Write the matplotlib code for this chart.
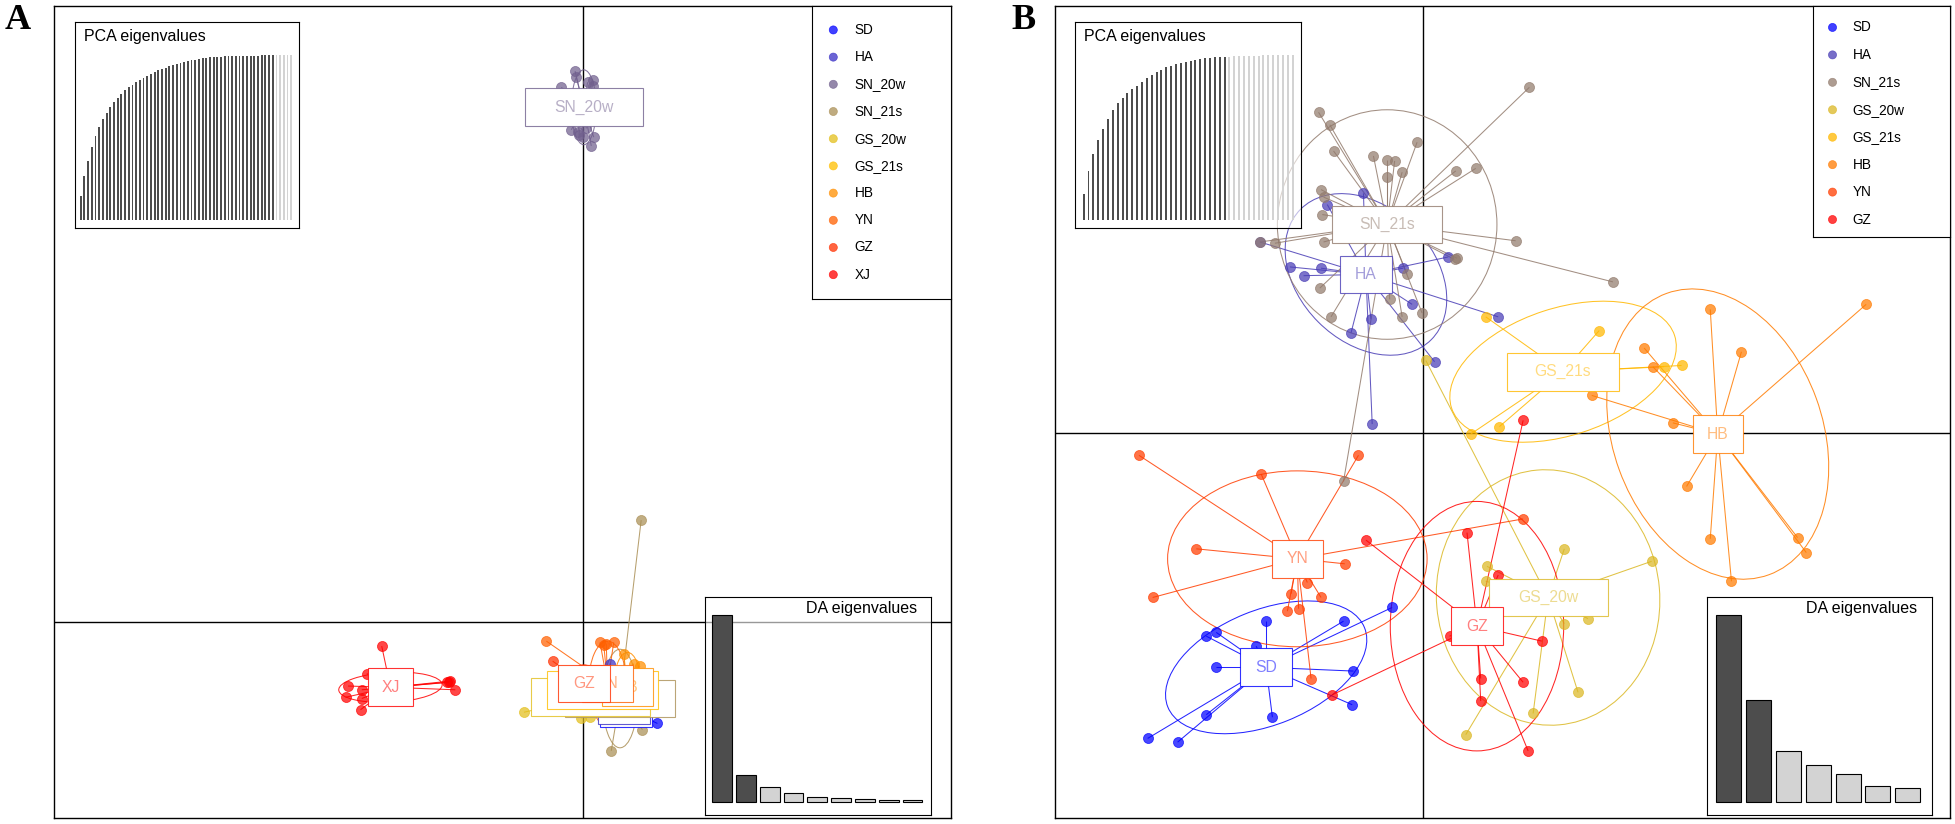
#!/usr/bin/env python
# DAPC scatter plots (panels A and B) with PCA / DA eigenvalue insets.
import matplotlib

matplotlib.use("Agg")
import matplotlib.pyplot as plt
from matplotlib.collections import LineCollection
from matplotlib.colors import to_rgba
from matplotlib.font_manager import FontProperties
from matplotlib.patches import Ellipse, Rectangle
from matplotlib.textpath import TextPath

plt.rcParams["font.family"] = ["Liberation Sans", "DejaVu Sans"]

# ----------------------------------------------------------------- panel A
A_GROUPS = ["SD", "HA", "SN_20w", "SN_21s", "GS_20w", "GS_21s", "HB", "YN", "GZ", "XJ"]
A_COLORS = ["#0000ff", "#3930c6", "#71608e", "#aa8f55", "#e3bf1c",
            "#ffbf00", "#ff8f00", "#ff6000", "#ff3000", "#ff0000"]
# group centroids (LD1, LD2)
A_CX = [3.5, 3.3, 0.1, 3.0, 0.6, 1.6, 3.6, 2.0, 0.1, -15.4]
A_CY = [-6.9, -6.6, 41.3, -6.1, -6.0, -5.4, -5.2, -4.9, -4.9, -5.2]
# inertia ellipses
A_ELL_W = [2.5, 2.5, 2.0, 2.8, 3.5, 3.2, 2.2, 3.0, 2.4, 8.3]
A_ELL_H = [2.0, 3.0, 6.0, 7.9, 3.0, 3.0, 5.6, 6.8, 3.0, 2.4]
A_ELL_ANG = [0, 0, 0, 0, 0, 0, 0, 0, 0, 3]

A_SD = [(6.0, -8.1), (4.3, -7.9), (2.8, -7.7), (3.6, -6.0), (4.5, -6.5)]
A_HA = [(2.2, -3.3), (3.8, -7.9), (3.0, -7.6), (4.2, -5.8)]
A_SN_20W = [(-0.6, 44.2), (-1.7, 42.9), (0.8, 43.5), (0.8, 43.0), (-0.5, 43.7),
            (0.4, 43.3), (-0.4, 39.3), (0.0, 38.9), (0.7, 38.2), (0.3, 39.6),
            (-0.3, 39.1), (-0.9, 39.5), (0.9, 38.9)]
A_SN_21S = [(4.7, 8.2), (4.8, -8.6), (2.3, -10.3), (3.0, -6.5), (2.0, -5.0), (4.0, -7.2)]
A_GS_20W = [(-4.7, -7.2), (-0.1, -7.7), (0.6, -7.6), (2.0, -5.5), (1.5, -6.5)]
A_GS_21S = [(0.0, -6.0), (3.0, -6.6), (1.0, -4.5), (2.5, -5.0)]
A_HB = [(3.3, -2.5), (4.1, -3.3), (4.6, -3.5), (3.0, -6.5), (4.0, -7.0)]
A_YN = [(-2.9, -1.5), (1.4, -1.6), (1.7, -1.8), (2.5, -1.6), (1.9, -1.7),
        (2.5, -6.0), (3.0, -5.0)]
A_GZ = [(-2.4, -3.1), (-1.0, -4.5), (1.0, -5.5), (2.0, -4.0), (0.5, -6.2)]
A_XJ = [(-16.1, -1.9), (-18.8, -5.1), (-19.0, -6.0), (-17.8, -7.0), (-17.7, -5.4),
        (-17.7, -6.1), (-17.3, -4.1), (-10.6, -4.7), (-10.7, -4.8), (-10.2, -5.4),
        (-10.9, -4.8)]
A_POINTS = [A_SD, A_HA, A_SN_20W, A_SN_21S, A_GS_20W, A_GS_21S, A_HB, A_YN, A_GZ, A_XJ]

A_PCA_EIG = [0.145, 0.27, 0.36, 0.44, 0.51, 0.565, 0.61, 0.65, 0.685, 0.715,
             0.74, 0.765, 0.785, 0.805, 0.82, 0.835, 0.85, 0.862, 0.874, 0.885,
             0.895, 0.905, 0.914, 0.922, 0.93, 0.937, 0.944, 0.95, 0.956, 0.961,
             0.966, 0.97, 0.974, 0.978, 0.981, 0.984, 0.986, 0.988, 0.989, 0.99,
             0.991, 0.992, 0.993, 0.993, 0.994, 0.994, 0.995, 0.995, 0.995, 0.996,
             0.996, 0.996, 0.996, 0.997, 0.998, 0.999, 1.0, 1.0]
A_PCA_KEPT = 53
A_DA_EIG = [150, 22, 12, 7, 4, 3, 2.5, 2, 1.5]
A_DA_KEPT = 2

# ----------------------------------------------------------------- panel B
B_GROUPS = ["SD", "HA", "SN_21s", "GS_20w", "GS_21s", "HB", "YN", "GZ"]
B_COLORS = ["#0000ff", "#493db6", "#927b6d", "#dbb824",
            "#ffb800", "#ff7b00", "#ff3d00", "#ff0000"]
B_CX = [-12.6, -4.6, -2.9, 10.0, 11.2, 23.6, -10.1, 4.3]
B_CY = [-18.8, 12.7, 16.7, -13.2, 4.9, -0.1, -10.1, -15.5]
B_ELL_W = [17.0, 14.8, 17.6, 20.5, 18.8, 24.0, 20.8, 20.0]
B_ELL_H = [9.2, 10.8, 18.4, 17.9, 10.2, 16.8, 14.1, 13.9]
B_ELL_ANG = [22, -45, 0, 95, 18, 110, 0, 90]

B_SD = [(-16.6, -16.0), (-17.4, -16.3), (-12.6, -15.1), (-13.4, -17.1), (-6.4, -15.1),
        (-2.5, -14.0), (-16.6, -18.8), (-5.6, -19.1), (-5.7, -21.8), (-12.1, -22.8),
        (-17.4, -22.6), (-22.1, -24.5), (-19.7, -24.8)]
B_HA = [(-4.8, 19.2), (-7.7, 18.3), (-10.7, 13.3), (-9.6, 12.6), (-8.2, 13.2),
        (-1.6, 13.2), (2.0, 14.1), (-0.9, 10.3), (6.0, 9.3), (-4.2, 9.1),
        (-5.8, 8.0), (-4.1, 0.7), (0.9, 5.7), (-13.1, 15.3)]
B_SN_21S = [(-8.4, 25.7), (-7.5, 24.7), (-7.2, 22.6), (-4.0, 22.2), (-2.9, 21.9),
            (-2.3, 21.8), (-1.7, 20.9), (-2.9, 20.5), (-0.5, 23.3), (2.6, 21.0),
            (4.2, 21.2), (-8.2, 19.5), (-8.0, 18.9), (-8.1, 17.5), (-8.0, 15.3),
            (-11.9, 15.2), (-13.1, 15.3), (-1.3, 12.7), (-2.7, 10.7), (-1.7, 9.3),
            (-0.1, 9.6), (-7.4, 9.3), (-8.3, 11.6), (2.5, 13.9), (2.7, 14.0),
            (7.4, 15.4), (15.2, 12.1), (8.5, 27.7), (-6.4, -3.9)]
B_GS_20W = [(0.2, 5.8), (11.3, -9.3), (5.1, -10.7), (5.0, -11.9), (11.3, -15.3),
            (13.2, -14.9), (12.4, -20.8), (8.8, -22.5), (3.4, -24.2), (18.3, -10.3)]
B_GS_21S = [(5.0, 9.3), (14.1, 8.2), (19.3, 5.3), (20.7, 5.4), (6.1, 0.5), (3.8, -0.1)]
B_HB = [(23.0, 9.9), (35.5, 10.3), (25.5, 6.5), (17.7, 6.8), (18.4, 5.3), (20.0, 0.8),
        (13.5, 3.0), (21.1, -4.3), (23.0, -8.5), (24.7, -11.9), (30.0, -8.4), (30.7, -9.6)]
B_YN = [(-22.8, -1.8), (-13.0, -3.3), (-5.2, -1.8), (-18.2, -9.3), (-6.3, -10.5),
        (-21.7, -13.2), (-9.3, -12.0), (-10.6, -12.9), (-8.2, -13.2), (-10.9, -14.3),
        (-10.0, -14.1), (-9.0, -19.7), (8.0, -6.9)]
B_GZ = [(8.0, 1.0), (3.5, -8.0), (6.0, -11.4), (9.5, -16.7), (4.6, -19.7), (4.6, -21.5),
        (8.0, -20.0), (8.4, -25.5), (2.1, -16.3), (-4.6, -8.6), (-7.3, -21.0)]
B_POINTS = [B_SD, B_HA, B_SN_21S, B_GS_20W, B_GS_21S, B_HB, B_YN, B_GZ]

B_PCA_EIG = [0.157, 0.296, 0.398, 0.483, 0.549, 0.614, 0.664, 0.706, 0.738, 0.769,
             0.791, 0.813, 0.835, 0.861, 0.875, 0.895, 0.909, 0.926, 0.934, 0.942,
             0.950, 0.956, 0.964, 0.970, 0.974, 0.978, 0.982, 0.984, 0.986, 0.988,
             0.989, 0.990, 0.991, 0.992, 0.993, 0.994, 0.995, 0.996, 0.997, 0.998,
             0.998, 0.999, 1.0, 1.0]
B_PCA_KEPT = 30
B_DA_EIG = [151, 82, 41, 30, 23, 13, 11]
B_DA_KEPT = 2

# ----------------------------------------------------------------- layout
# layout was measured on a 1568 x 660.6 copy of the figure; 10 of those px = 1 LD unit
REF_W, REF_H = 1568.0, 660.6
UNIT_PX = 10 * 1956 / REF_W
FS_LABEL = 11.3
FS_INSET = 11.5
FS_LEGEND = 9.8
DARK, LIGHT = "#4d4d4d", "#d3d3d3"


def ref_rect(x0, y0, x1, y1):
    return [x0 / REF_W, 1 - y1 / REF_H, (x1 - x0) / REF_W, (y1 - y0) / REF_H]


def text_width_px(text, size):
    prop = FontProperties(family="Liberation Sans", size=size)
    return TextPath((0, 0), text, prop=prop).get_extents().width * 100 / 72


def label_box(ax, x, y, text, color, z):
    w = (1.725 * text_width_px(text, FS_LABEL) + 16.4) / UNIT_PX
    h = 37.7 / UNIT_PX
    ax.add_patch(Rectangle((x - w / 2, y - h / 2), w, h, facecolor="white",
                           edgecolor=to_rgba(color, 0.8), linewidth=0.8, zorder=z))
    ax.text(x, y, text, color=to_rgba(color, 0.5), fontsize=FS_LABEL,
            ha="center", va="center", zorder=z + 0.005)


def draw_panel(fig, rect, origin, groups, colors, cx, cy, ell_w, ell_h, ell_ang, points):
    x0, y0, x1, y1 = rect
    ox, oy = origin
    ax = fig.add_axes(ref_rect(*rect))
    ax.set_xlim((x0 - ox) / 10, (x1 - ox) / 10)
    ax.set_ylim((oy - y1) / 10, (oy - y0) / 10)
    ax.set_xticks([])
    ax.set_yticks([])
    for spine in ax.spines.values():
        spine.set_linewidth(1.0)
    ax.axhline(0, color="black", linewidth=1.0, zorder=1)
    ax.axvline(0, color="black", linewidth=1.0, zorder=1)

    for i, col in enumerate(colors):
        pts = points[i]
        xs = [p[0] for p in pts]
        ys = [p[1] for p in pts]
        ax.add_patch(Ellipse((cx[i], cy[i]), ell_w[i], ell_h[i], angle=ell_ang[i],
                             fill=False, edgecolor=to_rgba(col, 0.85), linewidth=0.75, zorder=2))
        segs = [[(cx[i], cy[i]), p] for p in pts]
        ax.add_collection(LineCollection(segs, colors=[to_rgba(col, 0.85)],
                                         linewidths=0.75, zorder=2))
        ax.scatter(xs, ys, s=52, color=to_rgba(col, 0.72),
                   edgecolors=[to_rgba(col, 0.72)], linewidths=0.6, zorder=3)

    for i, name in enumerate(groups):
        label_box(ax, cx[i], cy[i], name, colors[i], 5 + 0.02 * i)
    return ax


def draw_pca_inset(fig, rect, eig, kept, bar_w, xlim):
    ax = fig.add_axes(ref_rect(*rect))
    ax.set_facecolor((1, 1, 1, 0.6))
    cols = [DARK if i < kept else LIGHT for i in range(len(eig))]
    ax.bar(range(len(eig)), eig, width=bar_w, color=cols, linewidth=0)
    top = max(eig)
    ax.set_xlim(*xlim)
    ax.set_ylim(-0.0447 * top, 1.196 * top)
    ax.set_xticks([])
    ax.set_yticks([])
    ax.text(0.04, 0.93, "PCA eigenvalues", transform=ax.transAxes,
            ha="left", va="center", fontsize=FS_INSET)


def draw_da_inset(fig, rect, eig, kept, xlim, title_x):
    ax = fig.add_axes(ref_rect(*rect))
    ax.set_facecolor((1, 1, 1, 0.6))
    pos = [1.2 * i for i in range(len(eig))]
    cols = [DARK if i < kept else LIGHT for i in range(len(eig))]
    ax.bar(pos, eig, width=1.0, color=cols, edgecolor="black", linewidth=0.8)
    top = max(eig)
    ax.set_xlim(*xlim)
    ax.set_ylim(-10 / 150 * top, 164.4 / 150 * top)
    ax.set_xticks([])
    ax.set_yticks([])
    ax.text(title_x, 0.946, "DA eigenvalues", transform=ax.transAxes,
            ha="right", va="center", fontsize=FS_INSET)


def draw_legend(fig, rect, groups, colors, first_row, row_step, dot_x, text_x):
    x0, y0, x1, y1 = rect
    ax = fig.add_axes(ref_rect(*rect))
    ax.set_xlim(0, x1 - x0)
    ax.set_ylim(y1 - y0, 0)
    ax.set_xticks([])
    ax.set_yticks([])
    rows = [first_row + row_step * i for i in range(len(groups))]
    ax.scatter([dot_x] * len(groups), rows, s=34,
               color=[to_rgba(c, 0.75) for c in colors],
               edgecolors=[to_rgba(c, 0.75) for c in colors], linewidths=0.5)
    for r, name in zip(rows, groups):
        ax.text(text_x, r, name, ha="left", va="center", fontsize=FS_LEGEND)


fig = plt.figure(figsize=(19.56, 8.24), dpi=100)

draw_panel(fig, (43, 5, 762, 656), (467, 499), A_GROUPS, A_COLORS, A_CX, A_CY,
           A_ELL_W, A_ELL_H, A_ELL_ANG, A_POINTS)
draw_panel(fig, (846, 5, 1563, 656), (1141, 347), B_GROUPS, B_COLORS, B_CX, B_CY,
           B_ELL_W, B_ELL_H, B_ELL_ANG, B_POINTS)

draw_pca_inset(fig, (59.8, 17.9, 240, 182.5), A_PCA_EIG, A_PCA_KEPT, 0.5, (-1.66, 59.2))
draw_pca_inset(fig, (862, 17.9, 1043, 182.5), B_PCA_EIG, B_PCA_KEPT, 0.4, (-1.72, 44.75))

draw_da_inset(fig, (565, 478.6, 746, 653), A_DA_EIG, A_DA_KEPT, (-0.877, 10.51), 0.939)
draw_da_inset(fig, (1368, 478.6, 1549, 653), B_DA_EIG, B_DA_KEPT, (-0.9, 8.19), 0.934)

draw_legend(fig, (651, 5, 762, 240), A_GROUPS, A_COLORS, 19, 21.8, 17, 34)
draw_legend(fig, (1453, 5, 1563, 190), B_GROUPS, B_COLORS, 17, 22, 16, 32)

fig.text(17.5 / 1956, 1 - 29.3 / 824, "A", ha="center", va="baseline", fontsize=26,
         fontweight="bold", family="Liberation Serif")
fig.text(1023.5 / 1956, 1 - 29.3 / 824, "B", ha="center", va="baseline", fontsize=26,
         fontweight="bold", family="Liberation Serif")

fig.savefig("out.png", dpi=100)
